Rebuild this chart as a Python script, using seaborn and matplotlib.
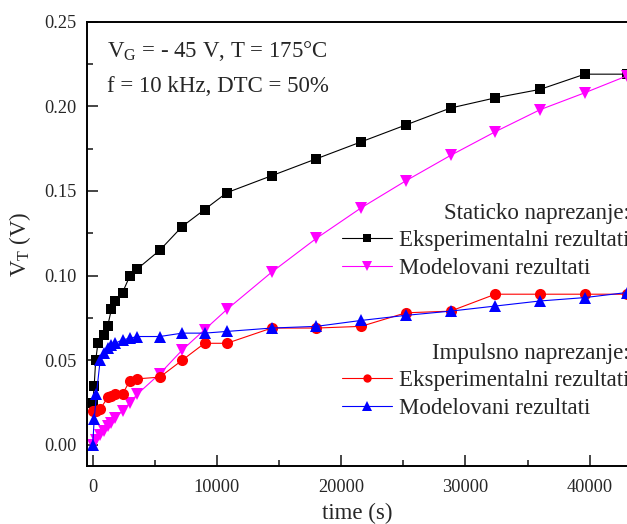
import numpy as np
import pandas as pd
import matplotlib
matplotlib.use('Agg')
import matplotlib.pyplot as plt
import seaborn as sns
from matplotlib.ticker import MultipleLocator

# static stress, experimental (black squares)
t_stat_exp = [0, 120, 240, 420, 900, 1200, 1500, 1800, 2400, 3000, 3600, 5400, 7200,
              9000, 10800, 14400, 18000, 21600, 25200, 28800, 32400, 36000, 39600, 43000]
v_stat_exp = [0.025, 0.035, 0.050, 0.060, 0.065, 0.070, 0.080, 0.085, 0.090, 0.100, 0.104,
              0.115, 0.129, 0.139, 0.149, 0.159, 0.169, 0.179, 0.189, 0.199, 0.205, 0.210,
              0.219, 0.219]

# static stress, model (magenta down triangles)
t_stat_mod = [0, 300, 600, 900, 1200, 1500, 1800, 2400, 3000, 3600, 5400, 7200, 9000,
              10800, 14400, 18000, 21600, 25200, 28800, 32400, 36000, 39600, 43000]
v_stat_mod = [0.000, 0.003, 0.006, 0.008, 0.011, 0.013, 0.016, 0.020, 0.025, 0.030, 0.042,
              0.056, 0.068, 0.080, 0.102, 0.122, 0.140, 0.156, 0.171, 0.185, 0.198, 0.208,
              0.218]

# pulsed stress, experimental (red circles)
t_imp_exp = [0, 300, 600, 1200, 1500, 1800, 2400, 3000, 3600, 5400, 7200, 9000, 10800,
             14400, 18000, 21600, 25200, 28800, 32400, 36000, 39600, 43000]
v_imp_exp = [0.020, 0.020, 0.021, 0.028, 0.029, 0.030, 0.030, 0.038, 0.039, 0.040, 0.050,
             0.060, 0.060, 0.069, 0.069, 0.070, 0.078, 0.079, 0.089, 0.089, 0.089, 0.089]

# pulsed stress, model (blue up triangles)
t_imp_mod = [0, 120, 300, 600, 900, 1200, 1500, 1800, 2400, 3000, 3600, 5400, 7200, 9000,
             10800, 14400, 18000, 21600, 25200, 28800, 32400, 36000, 39600, 43000]
v_imp_mod = [0.000, 0.015, 0.030, 0.050, 0.054, 0.057, 0.059, 0.060, 0.062, 0.063, 0.064,
             0.064, 0.066, 0.066, 0.067, 0.069, 0.070, 0.0735, 0.0765, 0.079, 0.082, 0.085,
             0.087, 0.090]

lbl_exp = 'Eksperimentalni rezultati'
lbl_mod = 'Modelovani rezultati'

sns.set_style('ticks')
plt.rcParams['font.family'] = ['Liberation Serif', 'DejaVu Serif']
plt.rcParams['mathtext.fontset'] = 'custom'
plt.rcParams['mathtext.rm'] = 'Liberation Serif'
plt.rcParams['mathtext.it'] = 'Liberation Serif:italic'

fig = plt.figure(figsize=(6.27, 5.24), dpi=100)
ax = fig.add_axes([86.5 / 627, 1 - 466 / 524, 1 - 86.5 / 627, (466 - 21.7) / 524])

sns.lineplot(x=t_stat_exp, y=v_stat_exp, ax=ax, color='black', lw=0.8,
             marker='s', markersize=7.5, markeredgewidth=0, label=lbl_exp)
sns.lineplot(x=t_stat_mod, y=v_stat_mod, ax=ax, color='#ff00ff', lw=0.8,
             marker='v', markersize=9, markeredgewidth=0, label=lbl_mod)
sns.lineplot(x=t_imp_exp, y=v_imp_exp, ax=ax, color='#ff0000', lw=0.8,
             marker='o', markersize=8, markeredgewidth=0, label=lbl_exp)
sns.lineplot(x=t_imp_mod, y=v_imp_mod, ax=ax, color='#0000ff', lw=0.8,
             marker='^', markersize=9, markeredgewidth=0, label=lbl_mod)

ax.set_xlim(-500, 43000)
ax.set_ylim(-0.0125, 0.25)
ax.xaxis.set_major_locator(MultipleLocator(10000))
ax.xaxis.set_minor_locator(MultipleLocator(5000))
ax.yaxis.set_major_locator(MultipleLocator(0.05))
ax.yaxis.set_minor_locator(MultipleLocator(0.025))
ax.yaxis.set_major_formatter(plt.FormatStrFormatter('%.2f'))
ax.tick_params(which='both', direction='in', width=1.2, labelsize=13.2,
               top=False, right=False)
ax.tick_params(axis='y', pad=7)
ax.tick_params(axis='x', pad=9)
ax.tick_params(which='major', length=8)
ax.tick_params(which='minor', length=4.5)
for s in ['left', 'bottom', 'top']:
    ax.spines[s].set_linewidth(1.4)
    ax.spines[s].set_color('black')
ax.spines['right'].set_visible(False)
ax.grid(False)

ax.set_xlabel('time (s)', fontsize=16.5, labelpad=5)
ax.set_ylabel(r'V$_\mathrm{T}$ (V)', fontsize=16.5, labelpad=8)

ax.text(0.038, 0.920, r'V$_\mathrm{G}$ = - 45 V, T = 175°C', transform=ax.transAxes,
        fontsize=16.5, va='baseline')
ax.text(0.038, 0.842, 'f = 10 kHz, DTC = 50%', transform=ax.transAxes,
        fontsize=16.5, va='baseline')

handles, labels = ax.get_legend_handles_labels()
leg_kw = dict(loc='upper left', bbox_transform=fig.transFigure, frameon=False,
              fontsize=16.5, title_fontsize=16.5, handlelength=2.2, handletextpad=0.3,
              labelspacing=0.28, borderpad=0, borderaxespad=0, markerscale=0.75,
              alignment='right')
leg1 = ax.legend(handles[:2], labels[:2], title='Staticko naprezanje:',
                 bbox_to_anchor=(342 / 627, 1 - 203 / 524), **leg_kw)
ax.add_artist(leg1)
ax.legend(handles[2:], labels[2:], title='Impulsno naprezanje:',
          bbox_to_anchor=(342 / 627, 1 - 343 / 524), **leg_kw)

fig.savefig('out.png', dpi=100)
